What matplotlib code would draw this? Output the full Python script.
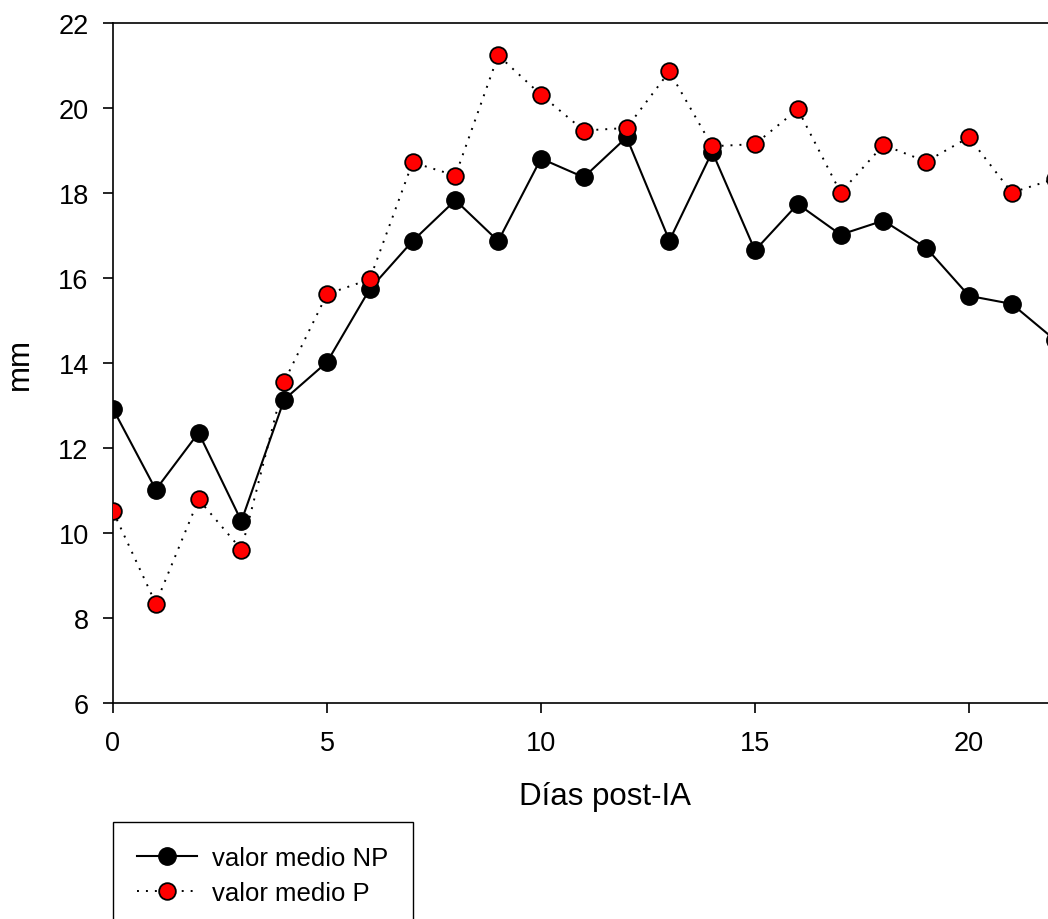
import matplotlib
matplotlib.use("Agg")
import matplotlib.pyplot as plt

plt.rcParams['font.family'] = ['Liberation Sans', 'DejaVu Sans']

days = list(range(0, 23))
np_mean = [12.92, 11.02, 12.36, 10.28, 13.14, 14.02, 15.74, 16.87, 17.83, 16.87,
           18.81, 18.37, 19.31, 16.88, 18.97, 16.65, 17.74, 17.02, 17.35, 16.71,
           15.58, 15.39, 14.55]
p_mean = [10.51, 8.34, 10.79, 9.61, 13.56, 15.62, 15.97, 18.72, 18.41, 21.24,
          20.31, 19.47, 19.53, 20.86, 19.10, 19.15, 19.97, 18.01, 19.13, 18.74,
          19.31, 18.01, 18.33]
labels = ["valor medio NP", "valor medio P"]
xticks = [0, 5, 10, 15, 20]
yticks = [6, 8, 10, 12, 14, 16, 18, 20, 22]

W, H = 1048, 920
fig = plt.figure(figsize=(W / 100, H / 100), dpi=100)
px = 42.8
xmax = 23
ax = fig.add_axes([113 / W, (H - 704) / H, xmax * px / W, (704 - 24) / H])

ax.plot(days, np_mean, color='black', lw=1.5, marker='o', ms=12.5,
        mfc='black', mec='black', mew=1, label=labels[0], zorder=3)
ax.plot(days, p_mean, color='black', lw=1.4, linestyle=(0, (1, 3.6)), marker='o', ms=12,
        mfc='#ff0000', mec='black', mew=1.3, label=labels[1], zorder=4)

ax.set_xlim(0, xmax)
ax.set_ylim(6, 22)
ax.set_xticks(xticks)
ax.set_yticks(yticks)
ax.spines['right'].set_visible(False)
for s in ['left', 'bottom', 'top']:
    ax.spines[s].set_linewidth(1.2)
ax.tick_params(direction='out', length=7.5, width=1.2, labelsize=19.5,
               top=False, right=False)
ax.tick_params(axis='x', pad=12)
ax.tick_params(axis='y', pad=10)
ax.set_xlabel("Días post-IA", fontsize=22.5, labelpad=18)
ax.set_ylabel("mm", fontsize=22.5, labelpad=17)

leg = fig.legend(loc='upper left', bbox_to_anchor=(113 / W, (H - 823) / H),
                 bbox_transform=fig.transFigure, borderaxespad=0,
                 fontsize=18.5, frameon=True, fancybox=False, edgecolor='black',
                 handlelength=2.3, handletextpad=0.6, borderpad=0.95, labelspacing=0.4)
leg.get_frame().set_linewidth(1.0)
leg.get_frame().set_alpha(1)

fig.savefig("out.png", dpi=100)
